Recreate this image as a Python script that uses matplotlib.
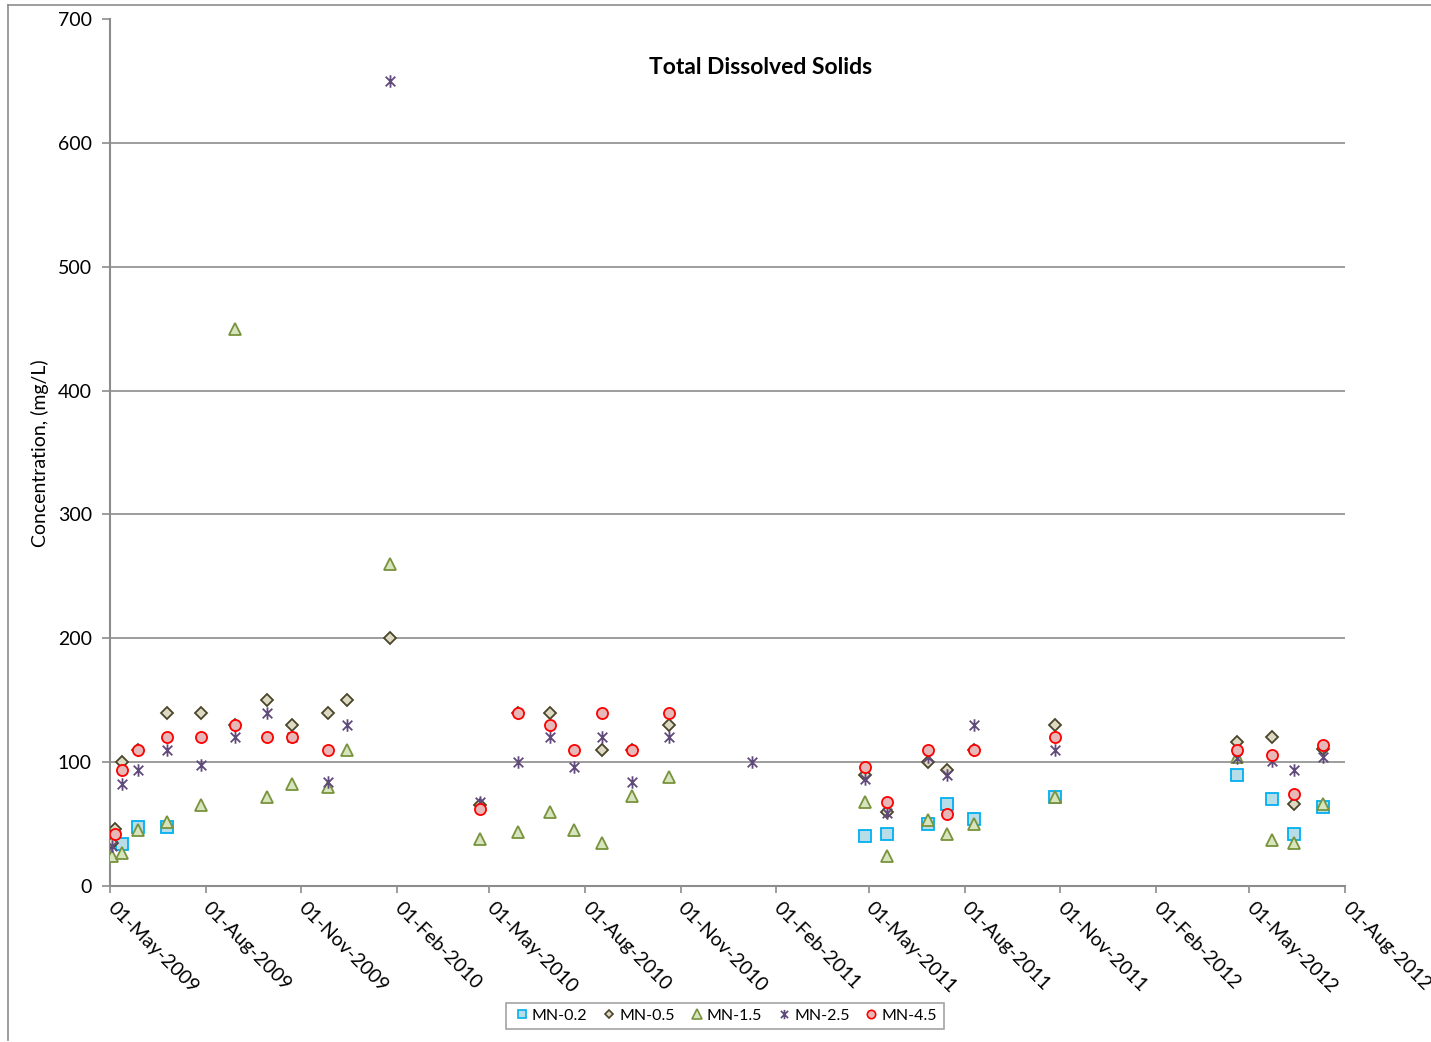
import numpy as np
import matplotlib
matplotlib.use("Agg")
import matplotlib.pyplot as plt
import matplotlib.dates as mdates
from matplotlib.path import Path
from matplotlib.lines import Line2D

plt.rcParams['font.family'] = ['Lato', 'DejaVu Sans']

nan = np.nan

# sampling dates (shared by all stations)
dates = np.array([
    "2009-05-03", "2009-05-06", "2009-05-13", "2009-05-28", "2009-06-25",
    "2009-07-28", "2009-08-29", "2009-09-29", "2009-10-23", "2009-11-27",
    "2009-12-15", "2010-01-25", "2010-04-22", "2010-05-28", "2010-06-28",
    "2010-07-21", "2010-08-17", "2010-09-15", "2010-10-21", "2011-01-09",
    "2011-04-27", "2011-05-18", "2011-06-27", "2011-07-15", "2011-08-10",
    "2011-10-27", "2012-04-19", "2012-05-23", "2012-06-13", "2012-07-11",
], dtype="datetime64[D]")

mn_02 = [nan, nan, 34, 48, 48, nan, nan, nan, nan, nan,
         nan, nan, nan, nan, nan, nan, nan, nan, nan, nan,
         40, 42, 50, 66, 54, 72, 90, 70, 42, 64]
mn_05 = [35, 46, 100, 110, 140, 140, 130, 150, 130, 140,
         150, 200, 65, 140, 140, nan, 110, 110, 130, nan,
         90, 60, 100, 94, 110, 130, 116, 120, 66, 111]
mn_15 = [24, nan, 27, 45, 52, 65, 450, 72, 82, 80,
         110, 260, 38, 44, 60, 45, 35, 73, 88, nan,
         68, 24, 53, 42, 50, 72, 104, 37, 35, 66]
mn_25 = [32, nan, 82, 94, 110, 98, 120, 140, 120, 84,
         130, 650, 68, 100, 120, 96, 120, 84, 120, 100,
         86, 59, 104, 90, 130, 110, 103, 101, 94, 104]
mn_45 = [nan, 42, 94, 110, 120, 120, 130, 120, 120, 110,
         nan, nan, 62, 140, 130, 110, 140, 110, 140, nan,
         96, 68, 110, 58, 110, 120, 110, 106, 74, 114]

series_names = ["MN-0.2", "MN-0.5", "MN-1.5", "MN-2.5", "MN-4.5"]
yticks = [0, 100, 200, 300, 400, 500, 600, 700]

# excel style star: an x with a vertical bar
star = Path([(-1, -1), (1, 1), (-1, 1), (1, -1), (0, -1.3), (0, 1.3)],
            [Path.MOVETO, Path.LINETO, Path.MOVETO, Path.LINETO, Path.MOVETO, Path.LINETO])

styles = [
    dict(marker="s", ms=8.5, mfc="#b7dee8", mec="#00b0f0"),
    dict(marker="D", ms=6, mfc="#ddd9c3", mec="#4a452a"),
    dict(marker="^", ms=9, mfc="#d7e4bd", mec="#77933c"),
    dict(marker=star, ms=9, mfc="none", mec="#604a7b"),
    dict(marker="o", ms=8, mfc="#e6b9b8", mec="#ff0000"),
]

fig = plt.figure(figsize=(14.31, 10.42), dpi=100)
ax = fig.add_axes([110 / 1431, 1 - 886 / 1042, 1235 / 1431, 867 / 1042])

for vals, st in zip([mn_02, mn_05, mn_15, mn_25, mn_45], styles):
    ax.plot(dates, vals, linestyle="none", mew=1.3, **st, zorder=3)

ax.set_ylim(0, 700)
ax.set_yticks(yticks)
ax.set_xlim(np.datetime64("2009-05-01"), np.datetime64("2012-08-01"))
ax.xaxis.set_major_locator(mdates.MonthLocator(bymonth=[2, 5, 8, 11], bymonthday=1))
ax.xaxis.set_major_formatter(mdates.DateFormatter("%d-%b-%Y"))

for y in yticks[1:-1]:
    ax.axhline(y, color="#8c8c8c", lw=1.2, zorder=1)

for s in ["top", "right"]:
    ax.spines[s].set_visible(False)
for s in ["left", "bottom"]:
    ax.spines[s].set_color("#8c8c8c")
    ax.spines[s].set_linewidth(1.5)

ax.tick_params(axis="y", length=6, width=1.2, color="#8c8c8c", labelsize=14, pad=7)
ax.tick_params(axis="x", length=5, width=1.2, color="#8c8c8c", labelsize=14, pad=9)
for lab in ax.get_xticklabels():
    lab.set_rotation(-45)
    lab.set_ha("left")
    lab.set_va("center")
    lab.set_rotation_mode("anchor")

fig.text(40 / 1431, 1 - 453 / 1042, "Concentration, (mg/L)", rotation=90,
         ha="center", va="center", fontsize=14)
fig.text(761 / 1431, 1 - 67 / 1042, "Total Dissolved Solids", ha="center",
         va="center", fontsize=16.5, fontweight="bold")

handles = [Line2D([], [], linestyle="none", mew=1.2, **dict(st, ms=st["ms"] * 0.75))
           for st in styles]
leg = fig.legend(handles, series_names, loc="center", ncol=5,
                 bbox_to_anchor=(725 / 1431, 1 - 1016 / 1042), fontsize=11.5,
                 frameon=True, fancybox=False, handletextpad=0.1,
                 columnspacing=0.8, handlelength=1.1, borderpad=0.4)
leg.get_frame().set_edgecolor("#8c8c8c")
leg.get_frame().set_linewidth(1.2)

# outer chart border
fig.add_artist(Line2D([8 / 1431, 8 / 1431], [0.002, 1 - 5 / 1042],
                      transform=fig.transFigure, color="#8c8c8c", lw=1.2))
fig.add_artist(Line2D([8 / 1431, 1.0], [1 - 5 / 1042, 1 - 5 / 1042],
                      transform=fig.transFigure, color="#8c8c8c", lw=1.2))

fig.savefig("out.png", dpi=100)
